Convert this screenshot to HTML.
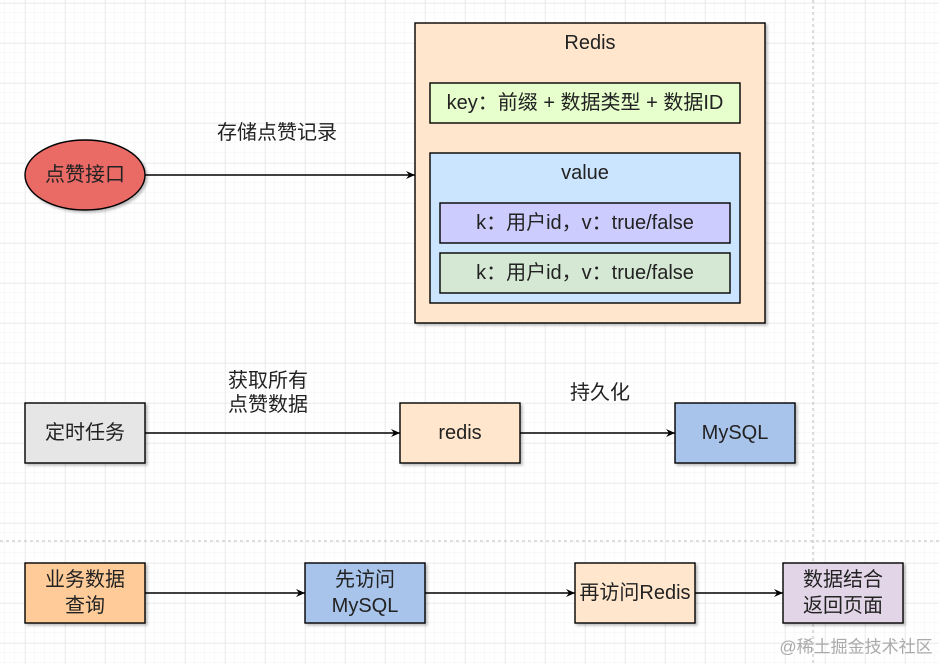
<!DOCTYPE html>
<html><head><meta charset="utf-8"><style>
body{margin:0;background:#fff}
svg{display:block}
text{font-family:"Liberation Sans","Noto Sans CJK SC",sans-serif;font-size:20px;fill:#222;text-anchor:middle;dominant-baseline:central}
</style></head><body>
<svg width="939" height="664" xmlns="http://www.w3.org/2000/svg">
<defs>
<pattern id="minor" width="10" height="10" patternUnits="userSpaceOnUse" x="5" y="3"><path d="M10 0V10M0 10H10" fill="none" stroke="#f3f3f3" stroke-width="1"/></pattern>
<pattern id="major" width="40" height="40" patternUnits="userSpaceOnUse" x="25" y="3"><path d="M0 0V40M0 0H40" fill="none" stroke="#e2e2e2" stroke-width="1"/></pattern>
<marker id="ar" markerWidth="10" markerHeight="10" refX="9" refY="5" orient="auto" markerUnits="userSpaceOnUse"><path d="M0 1L9 5L0 9L3 5Z" fill="#000"/></marker>
<filter id="sh"><feDropShadow dx="2" dy="2" stdDeviation="1.2" flood-color="#000" flood-opacity="0.25"/></filter>
</defs>
<rect width="939" height="664" fill="url(#minor)"/>
<rect width="939" height="664" fill="url(#major)"/>
<line x1="813" y1="0" x2="813" y2="664" stroke="#bbb" stroke-dasharray="3,3"/>
<line x1="0" y1="541" x2="939" y2="541" stroke="#bbb" stroke-dasharray="3,3"/>
<g stroke="#000" stroke-width="1.4" filter="url(#sh)">
<rect x="415" y="23" width="350" height="300" fill="#ffe6cc"/>
<rect x="430" y="83" width="310" height="40" fill="#e6ffcc"/>
<rect x="430" y="153" width="310" height="150" fill="#cce5ff"/>
<rect x="440" y="203" width="290" height="40" fill="#ccccff"/>
<rect x="440" y="253" width="290" height="40" fill="#d5e8d4"/>
<ellipse cx="85" cy="175" rx="60" ry="35" fill="#ea6b66"/>
<rect x="25" y="403" width="120" height="60" fill="#e6e6e6"/>
<rect x="400" y="403" width="120" height="60" fill="#ffe6cc"/>
<rect x="675" y="403" width="120" height="60" fill="#a9c4eb"/>
<rect x="25" y="563" width="120" height="60" fill="#ffcc99"/>
<rect x="305" y="563" width="120" height="60" fill="#a9c4eb"/>
<rect x="575" y="563" width="120" height="60" fill="#ffe6cc"/>
<rect x="783" y="563" width="120" height="60" fill="#e1d5e7"/>
</g>
<g stroke="#000" stroke-width="1.4" marker-end="url(#ar)">
<line x1="145" y1="175" x2="415" y2="175"/>
<line x1="145" y1="433" x2="400" y2="433"/>
<line x1="520" y1="433" x2="675" y2="433"/>
<line x1="145" y1="593" x2="305" y2="593"/>
<line x1="425" y1="593" x2="575" y2="593"/>
<line x1="695" y1="593" x2="783" y2="593"/>
</g>
<text x="590" y="43">Redis</text>
<text x="585" y="103">key：前缀 + 数据类型 + 数据ID</text>
<text x="585" y="173">value</text>
<text x="585" y="223">k：用户id，v：true/false</text>
<text x="585" y="273">k：用户id，v：true/false</text>
<text x="85" y="175">点赞接口</text>
<text x="277" y="133">存储点赞记录</text>
<text x="85" y="433">定时任务</text>
<text x="460" y="433">redis</text>
<text x="735" y="433">MySQL</text>
<text x="268" y="381">获取所有</text>
<text x="268" y="405">点赞数据</text>
<text x="600" y="393">持久化</text>
<text x="85" y="580">业务数据</text>
<text x="85" y="606">查询</text>
<text x="365" y="580">先访问</text>
<text x="365" y="606">MySQL</text>
<text x="635" y="593">再访问Redis</text>
<text x="843" y="580">数据结合</text>
<text x="843" y="606">返回页面</text>
<text x="856" y="647" style="font-size:17px;fill:#aaa">@稀土掘金技术社区</text>
</svg>
</body></html>
